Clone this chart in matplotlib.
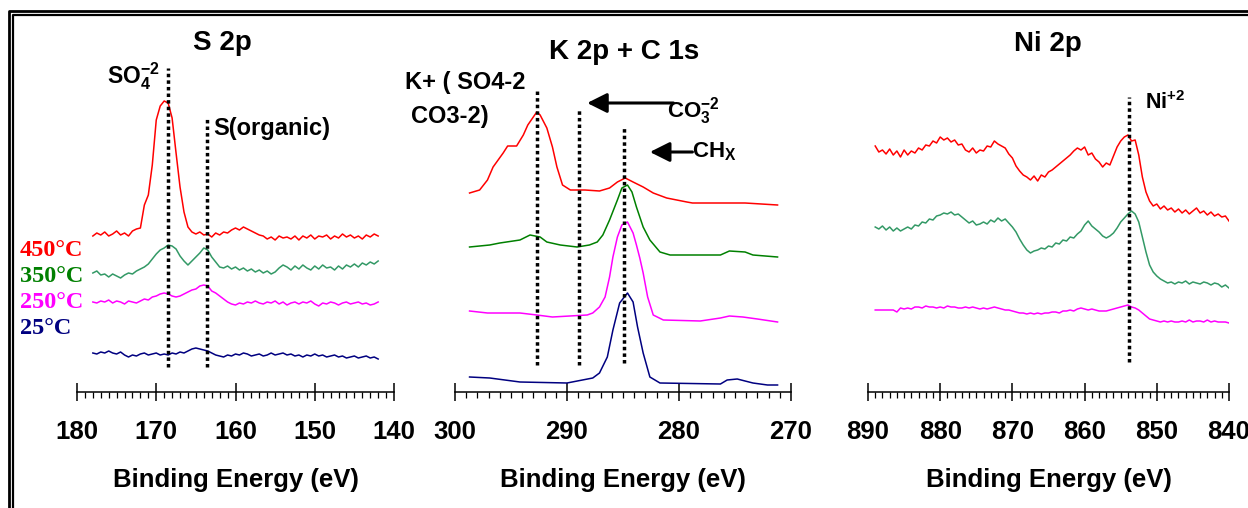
import matplotlib
matplotlib.use('Agg')
import matplotlib.pyplot as plt
import numpy as np
from matplotlib.lines import Line2D
from matplotlib.ticker import MultipleLocator

# ---- S 2p (grid 178 -> 142 eV, 0.5 eV step) ----
s2p_be = np.arange(178.0, 141.9, -0.5)
s2p_450 = [156, 159, 157, 160, 156, 158, 161, 157, 159, 156,
           161, 163, 164, 187, 197, 227, 272, 286, 291, 289,
           274, 239, 205, 180, 165, 160, 158, 160, 157, 158,
           155, 159, 157, 160, 159, 162, 164, 162, 165, 163,
           161, 159, 157, 156, 153, 155, 152, 156, 154, 155,
           153, 156, 152, 156, 154, 157, 153, 156, 155, 157,
           153, 156, 154, 158, 155, 157, 154, 156, 153, 157,
           155, 158, 156]
s2p_350 = [119, 121, 117, 118, 115, 118, 116, 114, 117, 119,
           118, 121, 123, 125, 128, 133, 138, 142, 144, 147,
           146, 143, 136, 131, 127, 131, 135, 139, 144, 142,
           135, 130, 125, 124, 126, 123, 125, 122, 124, 121,
           123, 120, 122, 119, 121, 118, 120, 124, 127, 125,
           122, 126, 123, 127, 124, 122, 126, 123, 127, 124,
           125, 122, 126, 123, 127, 125, 128, 125, 129, 127,
           130, 128, 131]
s2p_250 = [90, 89, 91, 90, 92, 89, 91, 90, 88, 91,
           90, 89, 91, 93, 92, 95, 96, 98, 99, 98,
           96, 95, 96, 98, 100, 102, 103, 106, 107, 106,
           101, 99, 96, 93, 90, 88, 87, 89, 88, 90,
           89, 91, 89, 88, 90, 89, 91, 88, 90, 87,
           89, 90, 88, 90, 89, 91, 88, 86, 89, 88,
           90, 89, 87, 89, 90, 88, 89, 90, 88, 89,
           87, 88, 90]
s2p_25 = [39, 38, 40, 39, 41, 39, 38, 40, 37, 35,
          37, 36, 38, 39, 37, 38, 39, 37, 38, 37,
          39, 38, 40, 39, 41, 43, 44, 43, 42, 41,
          39, 37, 36, 35, 37, 36, 38, 37, 39, 38,
          36, 37, 38, 36, 37, 39, 37, 38, 39, 37,
          38, 36, 37, 35, 37, 36, 38, 36, 37, 35,
          36, 37, 35, 36, 34, 35, 36, 34, 35, 36,
          34, 35, 33]

# ---- K 2p + C 1s ----
kc_450_be = [298.7, 297.8, 297.1, 296.6, 295.7, 295.3, 294.5, 293.9, 293.5, 292.7,
             292.4, 291.8, 291.3, 290.9, 290.4, 289.7, 288.4, 287.1, 286.2, 285.5,
             284.8, 284.1, 283.2, 282.3, 281.1, 279.3, 278.8, 274.1, 271.2]
kc_450 = [199, 202, 212, 225, 239, 246, 246, 257, 267, 280,
          277, 264, 245, 225, 207, 202, 202, 201, 204, 210,
          214, 210, 205, 199, 194, 190, 189, 189, 187]
kc_350_be = [298.7, 296.9, 296.0, 294.2, 293.3, 292.4, 291.8, 290.6, 289.1, 288.0,
             287.3, 286.8, 286.2, 285.5, 285.1, 284.6, 284.2, 283.8, 283.2, 282.6,
             281.7, 280.8, 276.3, 275.5, 274.1, 273.4, 271.2]
kc_350 = [145, 147, 149, 152, 157, 155, 150, 147, 145, 147,
          150, 157, 172, 192, 204, 207, 200, 185, 165, 152,
          140, 137, 137, 141, 140, 137, 135]
kc_250_be = [298.7, 297.1, 294.2, 292.7, 291.3, 288.2, 287.7, 287.1, 286.6, 286.2,
             285.9, 285.5, 285.1, 284.6, 284.1, 283.8, 283.5, 283.2, 282.8, 282.3,
             281.4, 278.1, 276.3, 275.5, 274.3, 273.0, 271.2]
kc_250 = [81, 79, 79, 77, 75, 77, 79, 85, 95, 115,
          135, 155, 167, 170, 159, 147, 134, 119, 95, 77,
          72, 71, 74, 76, 75, 73, 70]
kc_25_be = [298.7, 296.9, 294.2, 290.0, 287.7, 287.1, 286.4, 285.9, 285.3, 284.6,
            284.1, 283.7, 283.2, 282.6, 281.7, 276.3, 275.7, 274.8, 273.4, 272.1, 271.2]
kc_25 = [15, 14, 10, 9, 14, 19, 35, 62, 89, 99,
         90, 65, 39, 15, 9, 8, 12, 13, 9, 7, 7]

# ---- Ni 2p (grid 889 -> 840 eV, 0.5 eV step) ----
ni_be = np.arange(889.0, 839.9, -0.5)
ni_450 = [246, 240, 242, 238, 243, 237, 241, 235, 242, 237,
          241, 239, 244, 242, 247, 246, 251, 249, 255, 252,
          254, 250, 252, 247, 248, 242, 240, 244, 239, 242,
          241, 246, 245, 251, 248, 246, 244, 238, 234, 226,
          221, 217, 215, 212, 216, 211, 217, 215, 220, 222,
          225, 228, 231, 234, 237, 241, 244, 242, 245, 237,
          239, 233, 230, 225, 229, 227, 236, 245, 251, 255,
          257, 251, 252, 237, 215, 200, 191, 186, 188, 183,
          186, 182, 184, 180, 183, 179, 182, 178, 181, 184,
          179, 181, 177, 180, 176, 178, 175, 176, 171]
ni_350 = [165, 163, 166, 162, 165, 161, 164, 161, 163, 165,
          163, 167, 166, 170, 169, 173, 172, 176, 177, 179,
          178, 180, 177, 178, 175, 172, 169, 171, 167, 168,
          170, 168, 172, 170, 174, 171, 173, 169, 165, 160,
          153, 147, 142, 139, 141, 142, 144, 143, 146, 145,
          149, 148, 152, 151, 155, 154, 158, 161, 167, 171,
          166, 163, 160, 156, 154, 156, 159, 164, 170, 174,
          178, 181, 178, 170, 155, 140, 127, 120, 116, 113,
          111, 109, 110, 108, 110, 109, 111, 108, 110, 109,
          108, 110, 109, 107, 109, 108, 105, 107, 104]
ni_250 = [82, 82, 82, 82, 82, 82, 80, 84, 83, 84,
          83, 85, 85, 84, 86, 85, 85, 84, 85, 84,
          86, 85, 85, 84, 84, 85, 84, 85, 84, 83,
          84, 83, 84, 85, 84, 83, 82, 82, 81, 80,
          79, 79, 78, 79, 78, 79, 78, 79, 79, 80,
          80, 79, 81, 81, 82, 81, 83, 84, 83, 82,
          83, 82, 81, 81, 81, 82, 83, 84, 85, 86,
          87, 85, 84, 82, 79, 76, 73, 72, 71, 70,
          71, 70, 71, 70, 70, 71, 70, 72, 70, 71,
          71, 70, 72, 70, 71, 70, 70, 70, 69]

temps = ['450°C', '350°C', '250°C', '25°C']
temp_colors = ['#FF0000', '#008000', '#FF00FF', '#000080']

# reference lines: (energy, top, bottom) in a.u.
s2p_marks = [(168.5, 324, 25), (163.6, 274, 25)]
kc_marks = [(292.7, 302, 27), (288.9, 284, 27), (284.9, 264, 29)]
ni_marks = [(853.85, 295, 30)]

plt.rcParams['font.family'] = 'Liberation Sans'
plt.rcParams['font.weight'] = 'bold'
plt.rcParams['mathtext.fontset'] = 'custom'
plt.rcParams['mathtext.bf'] = 'Liberation Sans:bold'
plt.rcParams['mathtext.rm'] = 'Liberation Sans:bold'
plt.rcParams['mathtext.default'] = 'bf'

W, H = 1248, 508
fig = plt.figure(figsize=(W / 100, H / 100), dpi=100)
bottom = 1 - 392 / H
height = (392 - 60) / H


def make_axes(left_px, width_px, xmax, xmin):
    ax = fig.add_axes([left_px / W, bottom, width_px / W, height])
    ax.set_xlim(xmax, xmin)
    ax.set_ylim(0, 332)
    for side in ['left', 'top', 'right']:
        ax.spines[side].set_visible(False)
    ax.spines['bottom'].set_linewidth(1.1)
    ax.set_yticks([])
    ax.xaxis.set_major_locator(MultipleLocator(10))
    ax.xaxis.set_minor_locator(MultipleLocator(1))
    ax.tick_params(axis='x', which='major', direction='inout', length=12.5, width=1.1,
                   pad=14, labelsize=18.5)
    ax.tick_params(axis='x', which='minor', direction='out', length=4.5, width=0.9)
    for lab in ax.get_xticklabels():
        lab.set_fontweight('bold')
    ax.set_xlabel('Binding Energy (eV)', fontsize=18.5, fontweight='bold', labelpad=17)
    ax.patch.set_alpha(0)
    return ax


def dotted(ax, marks):
    for e, top, bot in marks:
        ax.plot([e, e], [bot, top], color='black', lw=2.5,
                linestyle=(0, (1, 0.9)), dash_capstyle='butt')


ax1 = make_axes(77, 317, 180, 140)
ax1.plot(s2p_be, s2p_450, color='#FF0000', lw=1.1)
ax1.plot(s2p_be, s2p_350, color='#339966', lw=1.1)
ax1.plot(s2p_be, s2p_250, color='#FF00FF', lw=1.1)
ax1.plot(s2p_be, s2p_25, color='#000080', lw=1.1)
dotted(ax1, s2p_marks)
ax1.text(169.6, 316, 'SO$_4^{-2}$', ha='right', va='center', fontsize=16.5)
ax1.text(162.8, 264, 'S(organic)', ha='left', va='center', fontsize=17)

ax2 = make_axes(455, 336, 300, 270)
ax2.plot(kc_450_be, kc_450, color='#FF0000', lw=1.1)
ax2.plot(kc_350_be, kc_350, color='#008000', lw=1.1)
ax2.plot(kc_250_be, kc_250, color='#FF00FF', lw=1.1)
ax2.plot(kc_25_be, kc_25, color='#000080', lw=1.1)
dotted(ax2, kc_marks)
ax2.text(304.5, 310, 'K+ ( SO4-2', ha='left', va='center', fontsize=17)
ax2.text(303.9, 276, 'CO3-2)', ha='left', va='center', fontsize=17)
ax2.annotate('', xy=(288.2, 289), xytext=(280.5, 289),
             arrowprops=dict(arrowstyle='-|>,head_length=0.6,head_width=0.3',
                             color='black', lw=2.2, shrinkA=0, shrinkB=0,
                             mutation_scale=20))
ax2.text(281.1, 281, 'CO$_3^{-2}$', ha='left', va='center', fontsize=16)
ax2.annotate('', xy=(282.6, 240), xytext=(278.8, 240),
             arrowprops=dict(arrowstyle='-|>,head_length=0.6,head_width=0.3',
                             color='black', lw=2.2, shrinkA=0, shrinkB=0,
                             mutation_scale=20))
ax2.text(278.8, 240, 'CH$_X$', ha='left', va='center', fontsize=16)

ax3 = make_axes(868, 361, 890, 840)
ax3.plot(ni_be, ni_450, color='#FF0000', lw=1.1)
ax3.plot(ni_be, ni_350, color='#339966', lw=1.1)
ax3.plot(ni_be, ni_250, color='#FF00FF', lw=1.1)
dotted(ax3, ni_marks)
ax3.text(851.6, 289, 'Ni$^{+2}$', ha='left', va='center', fontsize=15.5)

# panel titles
fig.text(222 / W, 1 - 43 / H, 'S 2p', ha='center', va='center', fontsize=20, fontweight='bold')
fig.text(624 / W, 1 - 52 / H, 'K 2p + C 1s', ha='center', va='center', fontsize=20, fontweight='bold')
fig.text(1048 / W, 1 - 44 / H, 'Ni 2p', ha='center', va='center', fontsize=20, fontweight='bold')

# temperature legend
for i, (t, c) in enumerate(zip(temps, temp_colors)):
    fig.text(20 / W, 1 - (251 + 25.7 * i) / H, t, ha='left', va='center', color=c,
             fontsize=17.5, fontweight='bold', family='Liberation Serif')

# double frame on top and left
fig.add_artist(Line2D([8.5 / W, 8.5 / W, 1], [0, 1 - 10.5 / H, 1 - 10.5 / H],
                      transform=fig.transFigure, color='black', lw=2.0))
fig.add_artist(Line2D([12.8 / W, 12.8 / W, 1], [0, 1 - 15.3 / H, 1 - 15.3 / H],
                      transform=fig.transFigure, color='black', lw=1.6))

fig.savefig('out.png', dpi=100, facecolor='white')
